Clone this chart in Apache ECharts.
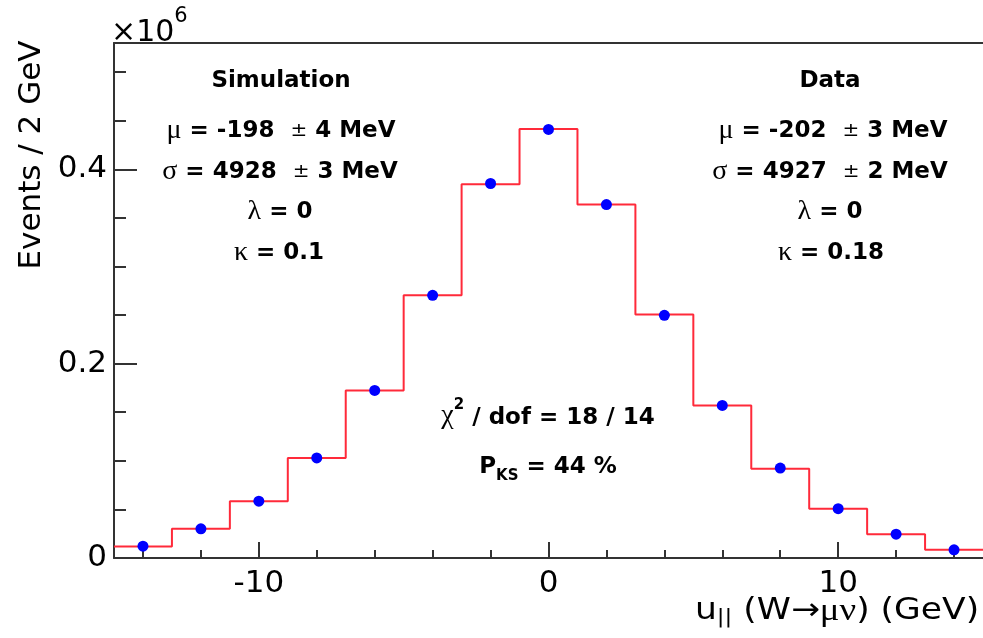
<!DOCTYPE html>
<html>
<head>
<meta charset="utf-8">
<script src="https://cdn.jsdelivr.net/npm/echarts@6/dist/echarts.min.js"></script>
<style>
html,body{margin:0;padding:0;background:#fff;}
#chart{width:983px;height:638px;}
</style>
</head>
<body>
<div id="chart"></div>
<script>
// ---- data (units: 10^6 events per 2 GeV bin) ----
const binCenters = [-14, -12, -10, -8, -6, -4, -2, 0, 2, 4, 6, 8, 10, 12, 14];
const binWidth = 2;
const simValues = [0.0118, 0.0301, 0.0585, 0.1028, 0.1725, 0.2703, 0.3847, 0.4416, 0.3637, 0.2505, 0.1570, 0.0919, 0.0507, 0.0245, 0.0084];
const dataValues = [0.0122, 0.0300, 0.0585, 0.1030, 0.1725, 0.2703, 0.3854, 0.4410, 0.3637, 0.2497, 0.1570, 0.0925, 0.0507, 0.0245, 0.0084];
const xMajorTicks = [-10, 0, 10];
const xMinorTicks = [-14, -12, -10, -8, -6, -4, -2, 0, 2, 4, 6, 8, 10, 12, 14];
const yMajorTicks = [0, 0.2, 0.4];
const yMinorTicks = [0.05, 0.1, 0.15, 0.25, 0.3, 0.35, 0.45, 0.5];
const xRange = [-15, 15];
const yRange = [0, 0.53];

// histogram outline from bin edges
const stepData = binCenters.map((c, i) => [c - binWidth / 2, simValues[i]]);
stepData.push([binCenters[binCenters.length - 1] + binWidth / 2, simValues[simValues.length - 1]]);
const pointData = binCenters.map((c, i) => [c, dataValues[i]]);

const axisColor = '#333';
const chart = echarts.init(document.getElementById('chart'), null, {renderer: 'canvas'});

const boldFont = 'DejaVu Sans';
const greek = {fontFamily: 'Liberation Serif', fontWeight: 'normal', fontSize: 28};
const pm = {fontFamily: 'DejaVu Sans', fontWeight: 'normal', fontSize: 20};

function statText(x, y, text) {
  return {
    type: 'text', x: x, y: y, z: 50,
    style: {
      text: text,
      fontFamily: boldFont, fontWeight: 'bold', fontSize: 23,
      fill: '#000', align: 'center', verticalAlign: 'middle',
      rich: {g: greek, pm: pm}
    }
  };
}

const option = {
  animation: false,
  backgroundColor: '#fff',
  grid: {left: 114, right: -1, top: 43, bottom: 80, containLabel: false},
  xAxis: [
    {
      type: 'value', min: xRange[0], max: xRange[1], position: 'bottom',
      axisLine: {show: true, onZero: false, lineStyle: {color: axisColor, width: 2}},
      axisTick: {show: true, inside: true, length: 8, customValues: xMinorTicks, lineStyle: {color: axisColor, width: 2}},
      axisLabel: {show: true, customValues: xMajorTicks, fontFamily: 'DejaVu Sans', fontSize: 31, color: '#000', margin: 10},
      splitLine: {show: false}
    },
    {
      type: 'value', min: xRange[0], max: xRange[1], position: 'bottom',
      axisLine: {show: false, onZero: false},
      axisTick: {show: true, inside: true, length: 16, customValues: xMajorTicks, lineStyle: {color: axisColor, width: 2}},
      axisLabel: {show: false},
      splitLine: {show: false}
    },
    {
      type: 'value', min: xRange[0], max: xRange[1], position: 'top',
      axisLine: {show: true, onZero: false, lineStyle: {color: axisColor, width: 2}},
      axisTick: {show: false}, axisLabel: {show: false}, splitLine: {show: false}
    }
  ],
  yAxis: [
    {
      type: 'value', min: yRange[0], max: yRange[1], position: 'left',
      axisLine: {show: true, onZero: false, lineStyle: {color: axisColor, width: 2}},
      axisTick: {show: true, inside: true, length: 12, customValues: yMinorTicks, lineStyle: {color: axisColor, width: 2}},
      axisLabel: {show: true, customValues: yMajorTicks, fontFamily: 'DejaVu Sans', fontSize: 31, color: '#000', margin: 7},
      splitLine: {show: false}
    },
    {
      type: 'value', min: yRange[0], max: yRange[1], position: 'left',
      axisLine: {show: false, onZero: false},
      axisTick: {show: true, inside: true, length: 23, customValues: yMajorTicks, lineStyle: {color: axisColor, width: 2}},
      axisLabel: {show: false},
      splitLine: {show: false}
    }
  ],
  series: [
    {
      name: 'Simulation', type: 'line', step: 'end', data: stepData,
      xAxisIndex: 0, yAxisIndex: 0,
      showSymbol: false, symbol: 'none',
      lineStyle: {color: '#ff2a3a', width: 2}, z: 3
    },
    {
      name: 'Data', type: 'scatter', data: pointData,
      xAxisIndex: 0, yAxisIndex: 0,
      symbol: 'circle', symbolSize: 11,
      itemStyle: {color: '#0000ff', opacity: 1}, z: 4
    }
  ],
  graphic: [
    // y axis title
    {
      type: 'text', x: 32, y: 155, rotation: Math.PI / 2,
      style: {text: 'Events / 2 GeV', fontFamily: 'DejaVu Sans', fontSize: 31, fill: '#000', align: 'center', verticalAlign: 'middle'}
    },
    // exponent
    {
      type: 'text', x: 111, y: 27,
      style: {
        text: '{a|×10}{s|6}', fill: '#000', align: 'left', verticalAlign: 'middle',
        rich: {
          a: {fontFamily: 'DejaVu Sans', fontSize: 30, lineHeight: 32, verticalAlign: 'bottom'},
          s: {fontFamily: 'DejaVu Sans', fontSize: 21, lineHeight: 42, verticalAlign: 'top'}
        }
      }
    },
    // x axis title
    {
      type: 'text', x: 695, y: 612, scaleX: 1.15, scaleY: 1.0,
      style: {
        text: '{a|u}{s|||}{a| (W→}{g|μν}{a|) (GeV)}', fill: '#000', align: 'left', verticalAlign: 'middle',
        rich: {
          a: {fontFamily: 'DejaVu Sans', fontSize: 30, lineHeight: 32, verticalAlign: 'top'},
          g: {fontFamily: 'Liberation Serif', fontSize: 32, lineHeight: 32, verticalAlign: 'top'},
          s: {fontFamily: 'DejaVu Sans', fontSize: 20, lineHeight: 22, verticalAlign: 'bottom'}
        }
      }
    },
    // Simulation block
    statText(281, 81, 'Simulation'),
    statText(281, 131, '{g|μ} = -198  {pm|±} 4 MeV'),
    statText(280, 172, '{g|σ} = 4928  {pm|±} 3 MeV'),
    statText(280, 212, '{g|λ} = 0'),
    statText(279, 253, '{g|κ} = 0.1'),
    // Data block
    statText(830, 81, 'Data'),
    statText(833, 131, '{g|μ} = -202  {pm|±} 3 MeV'),
    statText(830, 172, '{g|σ} = 4927  {pm|±} 2 MeV'),
    statText(830, 212, '{g|λ} = 0'),
    statText(831, 253, '{g|κ} = 0.18'),
    // fit quality
    {
      type: 'text', x: 548, y: 414, z: 50,
      style: {
        text: '{gx|χ}{sup|2}{t| / dof = 18 / 14}', fill: '#000', align: 'center', verticalAlign: 'middle',
        rich: {
          gx: {fontFamily: 'Liberation Serif', fontSize: 28, lineHeight: 28, verticalAlign: 'bottom'},
          sup: {fontFamily: 'DejaVu Sans', fontWeight: 'bold', fontSize: 15, lineHeight: 32, verticalAlign: 'top'},
          t: {fontFamily: 'DejaVu Sans', fontWeight: 'bold', fontSize: 23, lineHeight: 28, verticalAlign: 'bottom'}
        }
      }
    },
    {
      type: 'text', x: 548, y: 470, z: 50,
      style: {
        text: '{t|P}{sub|KS}{t| = 44 %}', fill: '#000', align: 'center', verticalAlign: 'middle',
        rich: {
          t: {fontFamily: 'DejaVu Sans', fontWeight: 'bold', fontSize: 23, lineHeight: 28, verticalAlign: 'top'},
          sub: {fontFamily: 'DejaVu Sans', fontWeight: 'bold', fontSize: 15, lineHeight: 17, verticalAlign: 'bottom'}
        }
      }
    }
  ]
};
chart.setOption(option);
</script>
</body>
</html>
